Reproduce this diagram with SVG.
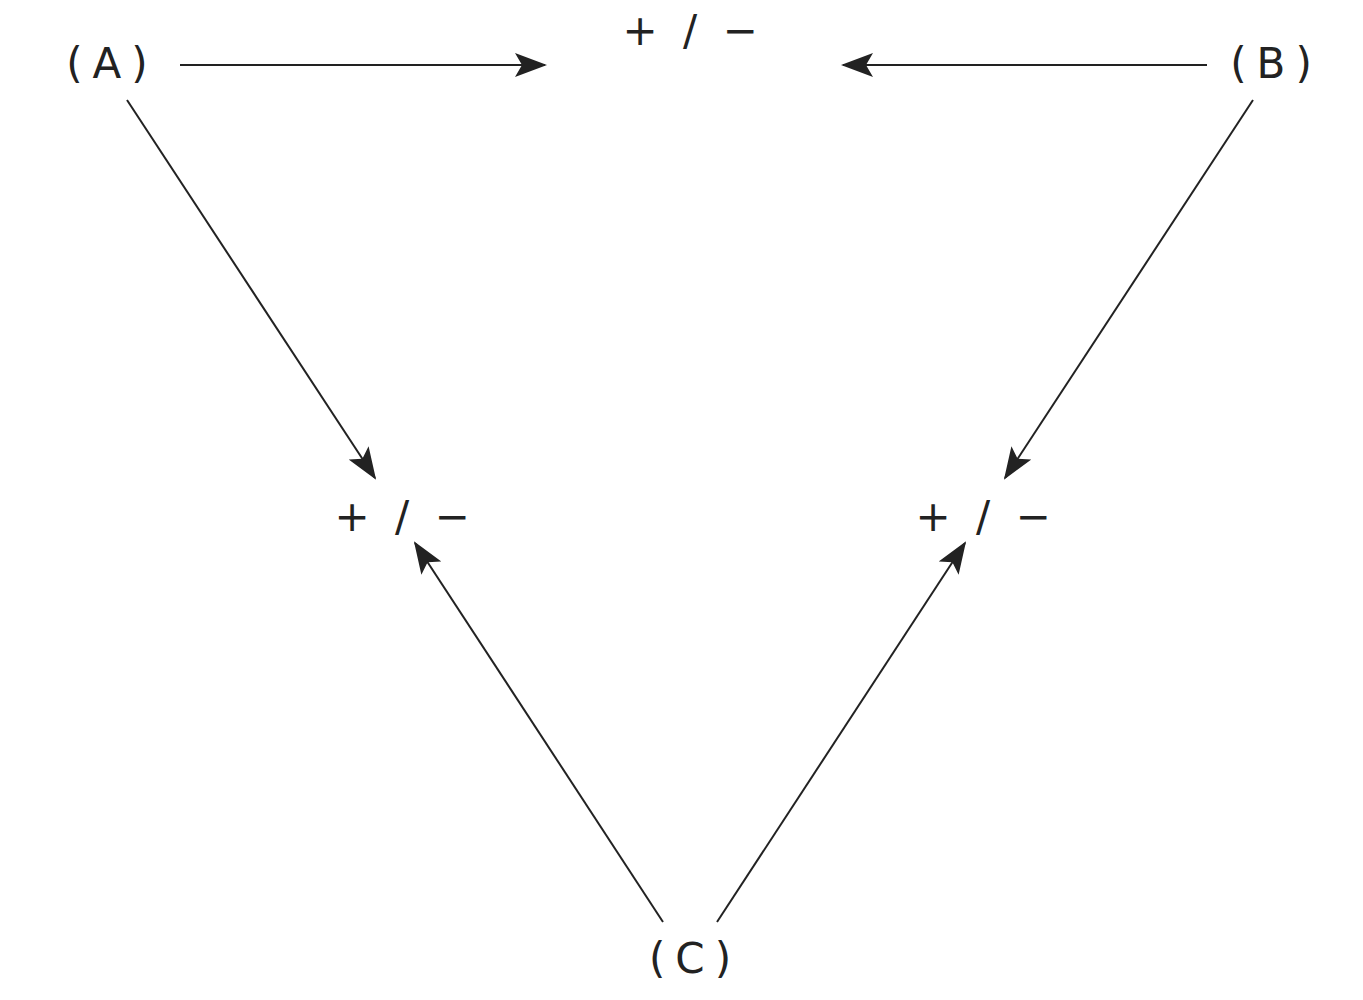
<svg xmlns="http://www.w3.org/2000/svg" width="1363" height="1000" viewBox="0 0 1363 1000">
<style>
text{font-family:"DejaVu Sans","Noto Sans CJK SC",sans-serif;font-size:42px;fill:#222;text-anchor:middle;dominant-baseline:central}
.n{letter-spacing:10px}
.s{letter-spacing:6px}
.c line{stroke:#222;stroke-width:2;fill:none}
</style>
<defs>
<marker id="ah" viewBox="0 0 32 24" refX="30" refY="12" markerWidth="32" markerHeight="24" markerUnits="userSpaceOnUse" orient="auto">
<path d="M0,0 L32,12 L0,24 L7,12 Z" fill="#222"/>
</marker>
</defs>
<rect width="1363" height="1000" fill="#fff"/>
<g id="A"><text class="n" x="112" y="63">(A)</text></g>
<g id="B"><text class="n" x="1276" y="63">(B)</text></g>
<g id="C"><text class="n" x="695" y="958">(C)</text></g>
<g id="top"><text class="s" x="693" y="30">+ / −</text></g>
<g id="left"><text class="s" x="405" y="516">+ / −</text></g>
<g id="right"><text class="s" x="986" y="516">+ / −</text></g>
<g class="c" id="connectors">
<line x1="180" y1="65" x2="545" y2="65" marker-end="url(#ah)"/>
<line x1="1207" y1="65" x2="843" y2="65" marker-end="url(#ah)"/>
<line x1="127" y1="100" x2="375" y2="478" marker-end="url(#ah)"/>
<line x1="1253" y1="100" x2="1005" y2="478" marker-end="url(#ah)"/>
<line x1="663" y1="922" x2="415" y2="543" marker-end="url(#ah)"/>
<line x1="717" y1="922" x2="965" y2="543" marker-end="url(#ah)"/>
</g>
</svg>
